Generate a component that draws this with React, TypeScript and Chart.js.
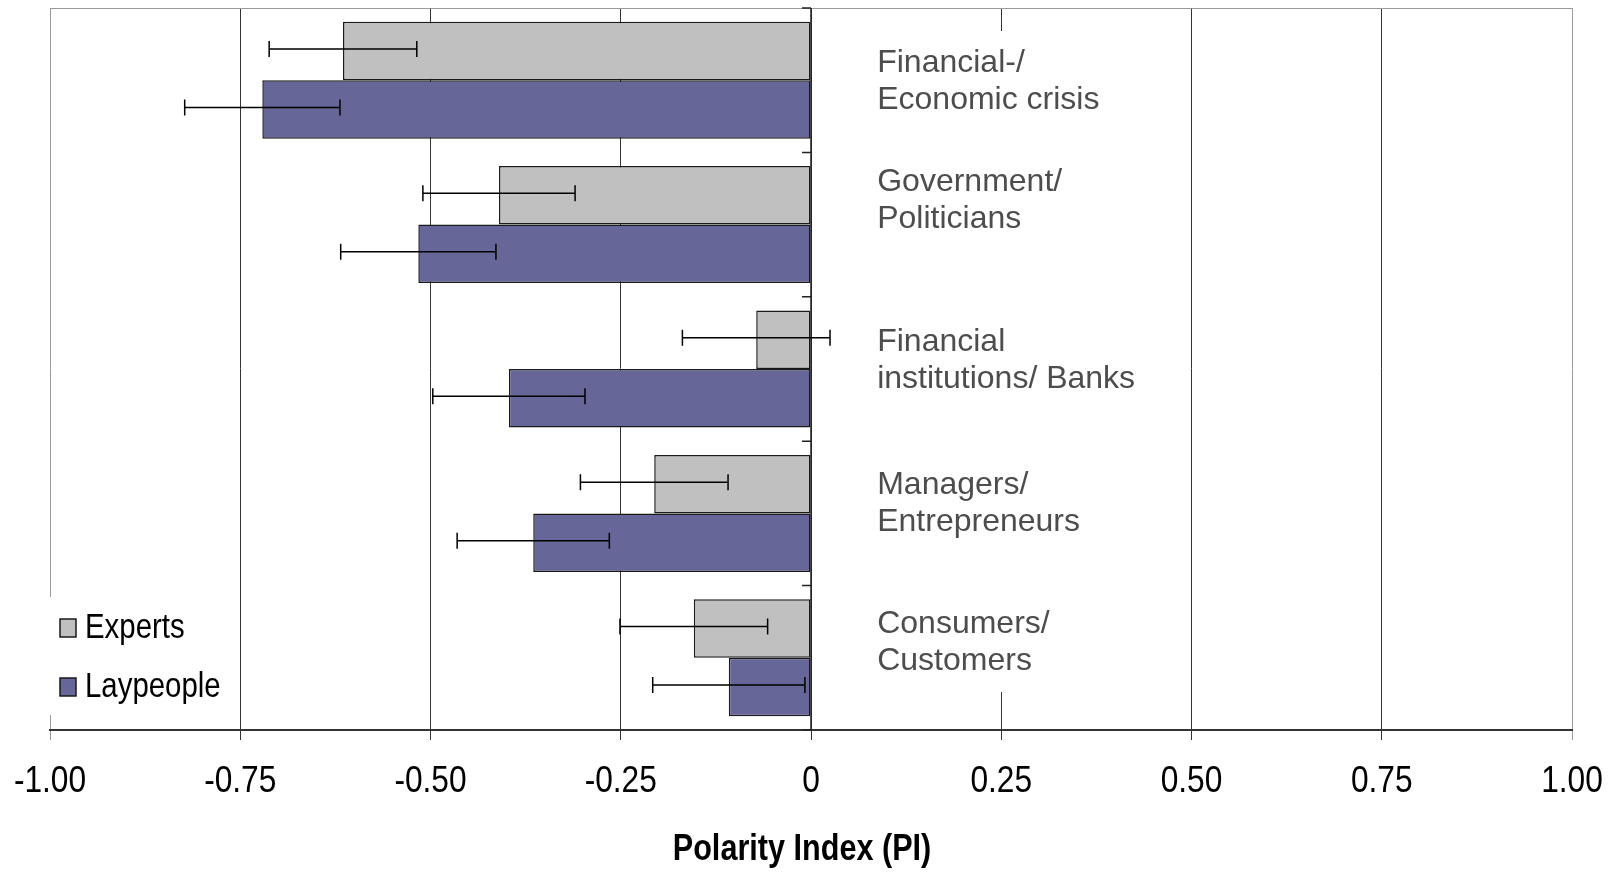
import React, { useEffect, useRef } from "react";
import { Chart, registerables } from "chart.js";

Chart.register(...registerables);

// Actor groups (two-line captions drawn inside the plot, right of zero)
const categories: string[][] = [
  ["Financial-/", "Economic crisis"],
  ["Government/", "Politicians"],
  ["Financial", "institutions/ Banks"],
  ["Managers/", "Entrepreneurs"],
  ["Consumers/", "Customers"],
];

// Polarity index per group, with the half-width of each error bar
const expertsPI = [-0.615, -0.41, -0.072, -0.206, -0.154];
const expertsErr = [0.097, 0.1, 0.097, 0.097, 0.097];
const laypeoplePI = [-0.721, -0.516, -0.397, -0.365, -0.108];
const laypeopleErr = [0.102, 0.102, 0.1, 0.1, 0.1];

const seriesNames = ["Experts", "Laypeople"];
const xTicks = [-1, -0.75, -0.5, -0.25, 0, 0.25, 0.5, 0.75, 1];
const axisTitle = "Polarity Index (PI)";

const SANS = "'Liberation Sans', Arial, sans-serif";
const EXPERT_FILL = "#c0c0c0";
const LAY_FILL = "#666699";
const EDGE = "#1a1a1a";

// vertical nudge of each caption block relative to its category centre
const captionShift = [1, -24, -8, -10, -15];

// text squeezed horizontally for an Arial-Narrow look
function narrowText(
  ctx: CanvasRenderingContext2D,
  text: string,
  x: number,
  y: number,
  size: number,
  align: CanvasTextAlign,
  squeeze: number,
  bold = false
) {
  ctx.save();
  ctx.translate(x, y);
  ctx.scale(squeeze, 1);
  ctx.font = `${bold ? "bold " : ""}${size}px ${SANS}`;
  ctx.textAlign = align;
  ctx.textBaseline = "middle";
  ctx.fillText(text, 0, 0);
  ctx.restore();
}

const overlay = {
  id: "overlay",
  beforeDatasetsDraw(chart: any) {
    const { ctx, chartArea: a } = chart;
    const x = chart.scales.x;
    ctx.save();
    ctx.fillStyle = "#ffffff";
    // blank panel behind the captions
    const cx0 = x.getPixelForValue(0.02);
    const cx1 = x.getPixelForValue(0.45);
    ctx.fillRect(cx0, a.top + 23, cx1 - cx0, a.bottom - 38 - (a.top + 23));
    // blank panel behind the legend
    ctx.fillRect(a.left - 3, a.bottom - 133, 182, 118);
    // top frame line
    ctx.strokeStyle = "#9a9a9a";
    ctx.lineWidth = 1;
    ctx.beginPath();
    ctx.moveTo(a.left, a.top + 0.5);
    ctx.lineTo(a.right, a.top + 0.5);
    ctx.stroke();
    ctx.restore();
  },
  afterDatasetsDraw(chart: any) {
    const { ctx, chartArea: a } = chart;
    const x = chart.scales.x;
    const y = chart.scales.y;
    ctx.save();

    // category axis along zero with outward ticks at the group boundaries
    const x0 = x.getPixelForValue(0);
    ctx.strokeStyle = "#222";
    ctx.lineWidth = 1.5;
    ctx.beginPath();
    ctx.moveTo(x0, a.top);
    ctx.lineTo(x0, a.bottom);
    const n = chart.data.labels.length;
    for (let i = 0; i <= n; i++) {
      const yy = y.getPixelForValue(i - 0.5);
      ctx.moveTo(x0 - 9, yy);
      ctx.lineTo(x0, yy);
    }
    ctx.stroke();

    // error bars
    const errs = [expertsErr, laypeopleErr];
    ctx.strokeStyle = "#000";
    ctx.lineWidth = 1.5;
    chart.data.datasets.forEach((ds: any, di: number) => {
      const meta = chart.getDatasetMeta(di);
      meta.data.forEach((bar: any, j: number) => {
        const v = ds.data[j];
        const e = errs[di][j];
        const xl = x.getPixelForValue(v - e);
        const xr = x.getPixelForValue(v + e);
        const yy = bar.y - 2;
        ctx.beginPath();
        ctx.moveTo(xl, yy);
        ctx.lineTo(xr, yy);
        ctx.moveTo(xl, yy - 8);
        ctx.lineTo(xl, yy + 8);
        ctx.moveTo(xr, yy - 8);
        ctx.lineTo(xr, yy + 8);
        ctx.stroke();
      });
    });

    // captions
    ctx.fillStyle = "#4d4d4d";
    ctx.font = `32px ${SANS}`;
    ctx.textAlign = "left";
    ctx.textBaseline = "middle";
    const tx = x.getPixelForValue(0.087);
    (chart.data.labels as string[][]).forEach((lines, j) => {
      const cy = y.getPixelForValue(j) + captionShift[j];
      lines.forEach((line, k) => {
        ctx.fillText(line, tx, cy + (k - (lines.length - 1) / 2) * 37);
      });
    });

    // legend
    chart.data.datasets.forEach((ds: any, di: number) => {
      const cy = a.bottom - 102 + di * 59;
      ctx.fillStyle = ds.backgroundColor;
      ctx.fillRect(a.left + 10, cy - 9, 16, 18);
      ctx.strokeStyle = EDGE;
      ctx.lineWidth = 1.5;
      ctx.strokeRect(a.left + 10, cy - 9, 16, 18);
      ctx.fillStyle = "#000";
      narrowText(ctx, ds.label, a.left + 35, cy, 35, "left", 0.84);
    });

    ctx.restore();
  },
  afterDraw(chart: any) {
    const { ctx, chartArea: a } = chart;
    const x = chart.scales.x;
    ctx.save();
    ctx.fillStyle = "#000";
    // value labels under the axis
    x.ticks.forEach((t: any) => {
      const v = Number(t.value);
      const txt = v === 0 ? "0" : v.toFixed(2);
      narrowText(ctx, txt, x.getPixelForValue(v), a.bottom + 52, 36, "center", 0.88);
    });
    // axis title
    narrowText(ctx, axisTitle, (a.left + a.right) / 2 - 9, a.bottom + 120, 36, "center", 0.85, true);
    ctx.restore();
  },
};

export default function App() {
  const ref = useRef<HTMLCanvasElement | null>(null);

  useEffect(() => {
    document.body.style.margin = "0";
    const canvas = ref.current;
    if (!canvas) return;
    const chart = new Chart(canvas, {
      type: "bar",
      data: {
        labels: categories as any,
        datasets: [
          {
            label: seriesNames[0],
            data: expertsPI,
            backgroundColor: EXPERT_FILL,
            borderColor: EDGE,
            borderWidth: 1.5,
            borderSkipped: false,
            categoryPercentage: 0.81,
            barPercentage: 1,
          },
          {
            label: seriesNames[1],
            data: laypeoplePI,
            backgroundColor: LAY_FILL,
            borderColor: EDGE,
            borderWidth: 1.5,
            borderSkipped: false,
            categoryPercentage: 0.81,
            barPercentage: 1,
          },
        ],
      },
      options: {
        indexAxis: "y",
        responsive: false,
        animation: false,
        devicePixelRatio: 1,
        layout: { padding: { left: 50, right: 40, top: 8, bottom: 132 } },
        plugins: { legend: { display: false }, tooltip: { enabled: false } },
        scales: {
          x: {
            min: -1,
            max: 1,
            afterBuildTicks: (s: any) => {
              s.ticks = xTicks.map((v) => ({ value: v }));
            },
            ticks: { display: false },
            grid: {
              color: (c: any) =>
                c.tick && Math.abs(c.tick.value) === 1 ? "#9a9a9a" : "#333",
              lineWidth: 1,
              tickLength: 10,
              drawTicks: true,
            },
            border: { display: true, color: "#333", width: 2 },
          },
          y: { display: false },
        },
      } as any,
      plugins: [overlay],
    });
    return () => chart.destroy();
  }, []);

  return (
    <div style={{ width: 1612, height: 872, background: "#fff" }}>
      <canvas ref={ref} width={1612} height={872} style={{ display: "block" }} />
    </div>
  );
}
